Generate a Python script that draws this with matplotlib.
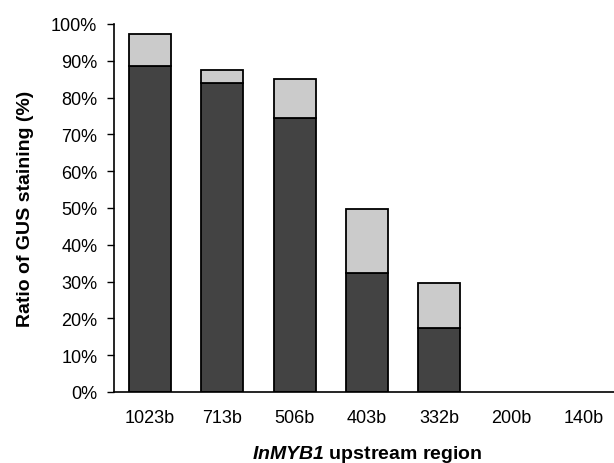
import numpy as np
import matplotlib
matplotlib.use("Agg")
import matplotlib.pyplot as plt

plt.rcParams['font.family'] = ['Liberation Sans', 'DejaVu Sans']
plt.rcParams['mathtext.fontset'] = 'custom'
plt.rcParams['mathtext.bfit'] = 'Liberation Sans:bold:italic'

regions = ['1023b', '713b', '506b', '403b', '332b', '200b', '140b']
strong = [88.7, 84.0, 74.4, 32.3, 17.4, 0, 0]   # dark part of bar
total = [97.2, 87.6, 85.1, 49.7, 29.5, 0, 0]    # top of light part
weak = [t - s for t, s in zip(total, strong)]

fig = plt.figure(figsize=(6.14, 4.64), dpi=100)
# axes runs a bit past the right edge, like the original crop
ax = fig.add_axes([114 / 614, 1 - 393 / 464, 506 / 614, 368 / 464])

x = np.arange(len(regions))
w = 0.58
show = [i for i in x if total[i] > 0]
ax.bar([x[i] for i in show], [strong[i] for i in show], width=w,
       color='#434343', edgecolor='black', linewidth=1.3)
ax.bar([x[i] for i in show], [weak[i] for i in show], width=w,
       bottom=[strong[i] for i in show],
       color='#cbcbcb', edgecolor='black', linewidth=1.3)

ax.set_xlim(-0.5, len(regions) - 0.5)
ax.set_ylim(0, 100)
ax.set_yticks(np.arange(0, 101, 10))
ax.set_yticklabels([f'{v}%' for v in range(0, 101, 10)], fontsize=13)
ax.set_xticks(x)
ax.set_xticklabels(regions, fontsize=13)
ax.tick_params(axis='x', length=0, pad=12)
ax.tick_params(axis='y', length=5, width=1, direction='out', pad=7)

for s in ['top', 'right']:
    ax.spines[s].set_visible(False)
ax.spines['left'].set_linewidth(1.2)
ax.spines['bottom'].set_linewidth(1.2)

fig.text(26 / 614, 1 - 209 / 464, 'Ratio of GUS staining (%)', fontsize=14,
         fontweight='bold', rotation=90, ha='center', va='center')
fig.text(367 / 614, 1 - 455 / 464, r'$\mathbfit{InMYB1}$ upstream region',
         fontsize=14, fontweight='bold', ha='center', va='center')

fig.savefig('out.png', dpi=100)
